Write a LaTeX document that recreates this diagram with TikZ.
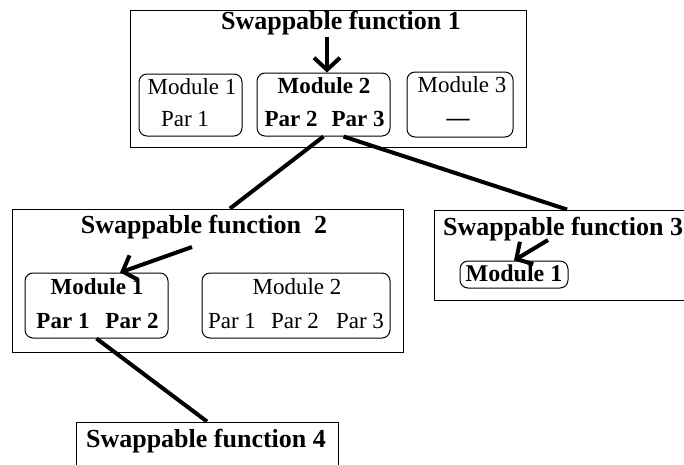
\documentclass[tikz,border=0pt]{standalone}
\usepackage{fontspec}
\setmainfont{Liberation Serif}
\usetikzlibrary{arrows.meta}
\begin{document}
\begin{tikzpicture}[x=1pt,y=-1pt,
 outer/.style={draw,line width=1pt,inner sep=0pt},
 modbox/.style={draw,line width=1pt,rounded corners=8pt,inner sep=0pt},
 ttl/.style={font=\fontsize{26}{30}\selectfont\bfseries,inner sep=0pt,anchor=base},
 mtxt/.style={font=\fontsize{23}{26}\selectfont,inner sep=0pt,anchor=base},
 mbold/.style={font=\fontsize{23}{26}\selectfont\bfseries,inner sep=0pt,anchor=base},
 link/.style={line width=4pt},
 pointer/.style={line width=4pt,-{Straight Barb[length=12pt,width=26pt]}}]
\useasboundingbox (0,0) rectangle (684,464);
\clip (0,0) rectangle (684,464);
\fill[white] (0,0) rectangle (684,464);
% Swappable function 1
\node[outer,minimum width=396pt,minimum height=137pt] (sf1) at (328,78.5) {};
\node[ttl] (sf1t) at (341,29) {Swappable function 1};
\node[modbox,minimum width=103pt,minimum height=62pt] (m11) at (190.5,105) {};
\node[mtxt] (m11a) at (192,94) {Module 1};
\node[mtxt] (m11b) at (185,126) {Par 1};
\node[modbox,minimum width=133pt,minimum height=63pt] (m12) at (323.5,104.5) {};
\node[mbold] (m12a) at (324,93) {Module 2};
\node[mbold] (m12b) at (291,126) {Par 2};
\node[mbold] (m12c) at (358,126) {Par 3};
\node[modbox,minimum width=106pt,minimum height=65pt] (m13) at (460,104.5) {};
\node[mtxt] (m13a) at (462,92) {Module 3};
\node[mbold] (m13b) at (458,125) {—};
% Swappable function 2
\node[outer,minimum width=391pt,minimum height=143pt] (sf2) at (207.5,280.5) {};
\node[ttl] (sf2t) at (204,233) {Swappable function\ \ 2};
\node[modbox,minimum width=143pt,minimum height=65pt] (s2m1) at (96.5,305.5) {};
\node[mbold] (s2m1a) at (97,294) {Module 1};
\node[mbold] (s2m1b) at (63,328) {Par 1};
\node[mbold] (s2m1c) at (132,328) {Par 2};
\node[modbox,minimum width=188pt,minimum height=65pt] (s2m2) at (296,305.5) {};
\node[mtxt] (s2m2a) at (297,294) {Module 2};
\node[mtxt] (s2m2b) at (232,328) {Par 1};
\node[mtxt] (s2m2c) at (295,328) {Par 2};
\node[mtxt] (s2m2d) at (360,328) {Par 3};
% Swappable function 3
\node[outer,minimum width=266pt,minimum height=90pt] (sf3) at (567,255) {};
\node[ttl,anchor=base west] (sf3t) at (443,235) {Swappable function 3};
\node[modbox,minimum width=108pt,minimum height=27pt] (s3m1) at (514,274.5) {};
\node[mbold,font=\fontsize{24}{26}\selectfont\bfseries] (s3m1a) at (514,281) {Module 1};
% Swappable function 4
\node[outer,minimum width=262pt,minimum height=58pt] (sf4) at (207,451) {};
\node[ttl] (sf4t) at (206,447) {Swappable function 4};
% connectors
\coordinate (a1s) at (327,37);
\draw[pointer] (a1s) -- (a1s |- m12.north);
\draw[link] (m12.south) -- ([xshift=22.5pt]sf2.north);
\draw[link] ([xshift=20pt]m12.south) -- (sf3.north);
\coordinate (a2s) at (192,247);
\draw[pointer] (a2s) -- ([xshift=23.5pt]s2m1.north);
\coordinate (a3s) at (548,240);
\draw[pointer] (a3s) -- (s3m1.north);
\draw[link] (s2m1.south) -- (sf4.north);
\end{tikzpicture}
\end{document}
